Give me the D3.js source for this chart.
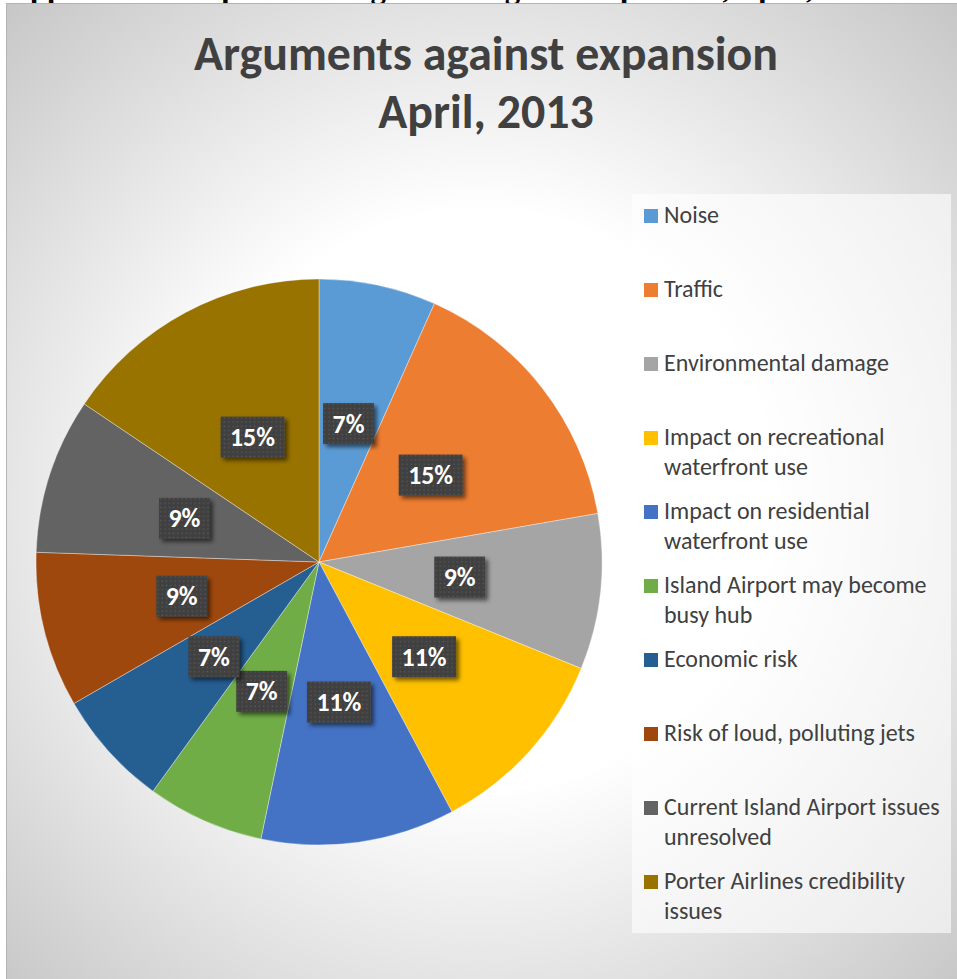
<!DOCTYPE html>
<html>
<head>
<meta charset="utf-8">
<script src="https://cdn.jsdelivr.net/npm/d3@7"></script>
<style>
  html, body { margin: 0; padding: 0; background: #ffffff; }
  svg { display: block; }
</style>
</head>
<body>
<svg id="chart" width="957" height="979"></svg>
<script>
// ---- data ----
const titleLines = ["Arguments against expansion", "April, 2013"];
const headingText = "Opposition to expansion: arguments against expansion, April, 2013";
const categories = [
  "Noise",
  "Traffic",
  "Environmental damage",
  "Impact on recreational waterfront use",
  "Impact on residential waterfront use",
  "Island Airport may become busy hub",
  "Economic risk",
  "Risk of loud, polluting jets",
  "Current Island Airport issues unresolved",
  "Porter Airlines credibility issues"
];
const values = [6.7, 15.6, 8.9, 11.1, 11.1, 6.7, 6.7, 8.9, 8.9, 15.6];
const valueLabels = ["7%", "15%", "9%", "11%", "11%", "7%", "7%", "9%", "9%", "15%"];
const colors = ["#5B9BD5", "#ED7D31", "#A5A5A5", "#FFC000", "#4472C4",
                "#70AD47", "#255E91", "#9E480E", "#636363", "#997300"];

// ---- layout ----
const W = 957, H = 979;
const cx = 319, cy = 562, R = 283;
const FONT = "Carlito, Lato, 'Open Sans', sans-serif";

const svg = d3.select("#chart");
const defs = svg.append("defs");

// background radial gradient
const bg = defs.append("radialGradient").attr("id", "bg")
  .attr("gradientUnits", "userSpaceOnUse")
  .attr("cx", 480).attr("cy", 500).attr("r", 720);
bg.append("stop").attr("offset", 0.40).attr("stop-color", "#ffffff");
bg.append("stop").attr("offset", 1).attr("stop-color", "#c2c2c2");

// dotted pattern for label boxes
const pat = defs.append("pattern").attr("id", "dots")
  .attr("patternUnits", "userSpaceOnUse").attr("width", 4.3).attr("height", 4.3);
pat.append("rect").attr("width", 4.3).attr("height", 4.3).attr("fill", "#404040");
pat.append("rect").attr("x", 1.4).attr("y", 1.4).attr("width", 1.4).attr("height", 1.4).attr("fill", "#585858");

// drop shadow
const sh = defs.append("filter").attr("id", "shadow")
  .attr("x", "-30%").attr("y", "-30%").attr("width", "170%").attr("height", "180%");
sh.append("feDropShadow").attr("dx", 3).attr("dy", 3).attr("stdDeviation", 2.2)
  .attr("flood-color", "#000").attr("flood-opacity", 0.55);

// helper: fit font size so text has given width
function fitText(sel, target) {
  const fs = parseFloat(sel.attr("font-size"));
  const w = sel.node().getComputedTextLength();
  const nf = fs * target / w;
  sel.attr("font-size", nf);
  return nf;
}

// cut-off heading at the very top of the page
const head = svg.append("text")
  .attr("x", 6).attr("y", -2.5)
  .attr("font-family", "'Liberation Serif', 'Times New Roman', serif")
  .attr("font-weight", "bold").attr("font-size", 26).attr("fill", "#000")
  .text(headingText.slice(0, headingText.indexOf(",", headingText.indexOf("April")) + 1));
fitText(head, 808);
head.text(headingText);

// chart area
svg.append("rect").attr("x", 6.5).attr("y", 3.5).attr("width", W - 6).attr("height", H - 3)
  .attr("fill", "url(#bg)").attr("stroke", "#b4b4b4").attr("stroke-width", 1);

// title
const titleG = svg.append("g");
const t1 = titleG.append("text").attr("x", 486).attr("y", 70)
  .attr("text-anchor", "middle").attr("font-family", FONT).attr("font-weight", "bold")
  .attr("font-size", 40).attr("fill", "#404040").text(titleLines[0]);
const tfs = fitText(t1, 584);
titleG.append("text").attr("x", 486).attr("y", 128)
  .attr("text-anchor", "middle").attr("font-family", FONT).attr("font-weight", "bold")
  .attr("font-size", tfs).attr("fill", "#404040").text(titleLines[1]);

// pie
const pie = d3.pie().sort(null).value(d => d.v);
const data = categories.map((c, i) => ({ c, v: values[i], lab: valueLabels[i], col: colors[i] }));
const arcs = pie(data);
const arc = d3.arc().innerRadius(0).outerRadius(R);

const pg = svg.append("g").attr("transform", `translate(${cx},${cy})`);
pg.selectAll("path.slice").data(arcs).join("path")
  .attr("class", "slice")
  .attr("d", arc)
  .attr("fill", d => d.data.col)
  .attr("stroke", "rgba(255,255,255,0.6)")
  .attr("stroke-width", 0.6);

// data labels
const probe = pg.append("text").attr("font-family", FONT).attr("font-weight", "bold")
  .attr("font-size", 24).text("15%");
const lfs = fitText(probe, 45);
probe.remove();

const lg = pg.selectAll("g.lab").data(arcs).join("g")
  .attr("class", "lab")
  .attr("transform", d => { const c = arc.centroid(d); return `translate(${c[0]},${c[1]})`; });
const rects = lg.append("rect");
const txts = lg.append("text")
  .attr("text-anchor", "middle")
  .attr("dy", "0.35em")
  .attr("font-family", FONT).attr("font-weight", "bold")
  .attr("font-size", lfs).attr("fill", "#ffffff")
  .text(d => d.data.lab);
txts.each(function (d) { d.tw = this.getComputedTextLength(); });
rects.attr("x", d => -(d.tw / 2 + 9.5)).attr("y", -20.5)
  .attr("width", d => d.tw + 19).attr("height", 41)
  .attr("fill", "url(#dots)")
  .attr("filter", "url(#shadow)");

// legend
svg.append("rect").attr("x", 632).attr("y", 194).attr("width", 319).attr("height", 739)
  .attr("fill", "#ffffff").attr("fill-opacity", 0.6);

const probe2 = svg.append("text").attr("font-family", FONT).attr("font-size", 20)
  .text("Environmental damage");
const legFs = fitText(probe2, 225);
function wrap(str, maxW) {
  const words = str.split(" ");
  const lines = [];
  let cur = "";
  words.forEach(w => {
    const t = cur ? cur + " " + w : w;
    probe2.text(t);
    if (probe2.node().getComputedTextLength() > maxW && cur) { lines.push(cur); cur = w; }
    else cur = t;
  });
  if (cur) lines.push(cur);
  return lines;
}
const legData = data.map(d => ({ ...d, lines: wrap(d.c, 284) }));
probe2.remove();

const legY = d3.scaleBand().domain(categories).range([194 + 2, 194 + 2 + 74 * categories.length]).padding(0);
const le = svg.selectAll("g.leg").data(legData).join("g")
  .attr("class", "leg")
  .attr("transform", d => `translate(644,${legY(d.c) + 27})`);
le.append("rect").attr("x", 0).attr("y", -14).attr("width", 14).attr("height", 14)
  .attr("fill", d => d.col);
le.each(function (d) {
  const t = d3.select(this).append("text")
    .attr("x", 20).attr("y", 0)
    .attr("font-family", FONT).attr("font-size", legFs).attr("fill", "#404040");
  d.lines.forEach((ln, i) => {
    t.append("tspan").attr("x", 20).attr("y", i * 30).text(ln);
  });
});
</script>
</body>
</html>
